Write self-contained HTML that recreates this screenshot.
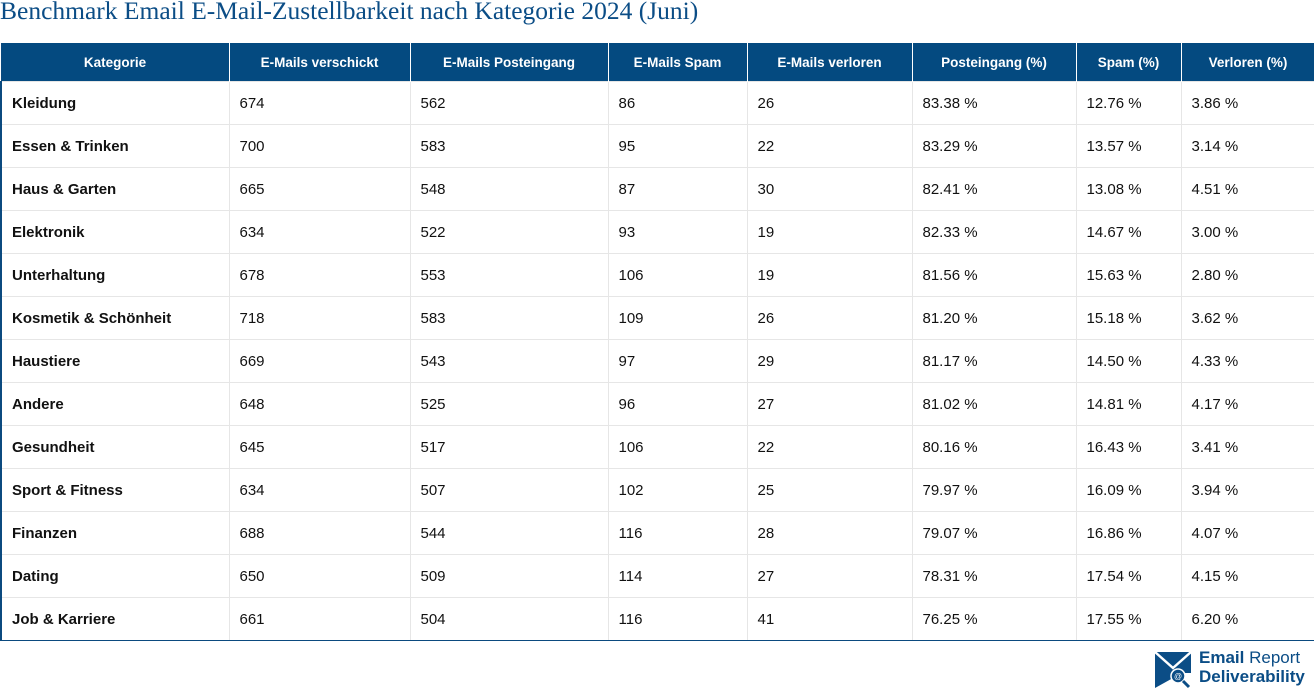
<!DOCTYPE html>
<html><head><meta charset="utf-8"><style>
body{margin:0;width:1314px;height:689px;background:#fff;overflow:hidden;font-family:"Liberation Sans",sans-serif}
h1{position:absolute;left:0;top:-4px;margin:0;font:normal 25.5px "Liberation Serif",serif;color:#0b4d86;white-space:nowrap}
table{position:absolute;left:0;top:43px;border-collapse:collapse;table-layout:fixed;width:1314px;border:1px solid #0b4a7f;border-top:none}
th{background:#044a80;color:#fff;font-size:13.5px;font-weight:bold;height:38px;padding:0;border-left:1px solid #fff;text-align:center}
th:first-child{border-left:none}
td{height:42px;border:1px solid #e6e6e6;font-size:15px;color:#111;padding:0 0 0 10px}
td:first-child{font-weight:bold;border-left:2px solid #0b4a7f}
td:last-child{border-right:1px solid #0b4a7f}
tr:last-child td{border-bottom:1px solid #0b4a7f}
.logo{position:absolute;left:1154px;top:651px}
.lt{position:absolute;left:1199px;top:648px;color:#0b4d86;font-weight:bold;font-size:17px;line-height:19px}
</style></head><body>
<h1>Benchmark Email E-Mail-Zustellbarkeit nach Kategorie 2024 (Juni)</h1>
<table>
<colgroup><col style="width:228px"><col style="width:181px"><col style="width:198px"><col style="width:139px"><col style="width:165px"><col style="width:164px"><col style="width:105px"><col style="width:134px"></colgroup>
<tr><th>Kategorie</th><th>E-Mails verschickt</th><th>E-Mails Posteingang</th><th>E-Mails Spam</th><th>E-Mails verloren</th><th>Posteingang (%)</th><th>Spam (%)</th><th>Verloren (%)</th></tr>
<tr><td>Kleidung</td><td>674</td><td>562</td><td>86</td><td>26</td><td>83.38 %</td><td>12.76 %</td><td>3.86 %</td></tr>
<tr><td>Essen &amp; Trinken</td><td>700</td><td>583</td><td>95</td><td>22</td><td>83.29 %</td><td>13.57 %</td><td>3.14 %</td></tr>
<tr><td>Haus &amp; Garten</td><td>665</td><td>548</td><td>87</td><td>30</td><td>82.41 %</td><td>13.08 %</td><td>4.51 %</td></tr>
<tr><td>Elektronik</td><td>634</td><td>522</td><td>93</td><td>19</td><td>82.33 %</td><td>14.67 %</td><td>3.00 %</td></tr>
<tr><td>Unterhaltung</td><td>678</td><td>553</td><td>106</td><td>19</td><td>81.56 %</td><td>15.63 %</td><td>2.80 %</td></tr>
<tr><td>Kosmetik &amp; Schönheit</td><td>718</td><td>583</td><td>109</td><td>26</td><td>81.20 %</td><td>15.18 %</td><td>3.62 %</td></tr>
<tr><td>Haustiere</td><td>669</td><td>543</td><td>97</td><td>29</td><td>81.17 %</td><td>14.50 %</td><td>4.33 %</td></tr>
<tr><td>Andere</td><td>648</td><td>525</td><td>96</td><td>27</td><td>81.02 %</td><td>14.81 %</td><td>4.17 %</td></tr>
<tr><td>Gesundheit</td><td>645</td><td>517</td><td>106</td><td>22</td><td>80.16 %</td><td>16.43 %</td><td>3.41 %</td></tr>
<tr><td>Sport &amp; Fitness</td><td>634</td><td>507</td><td>102</td><td>25</td><td>79.97 %</td><td>16.09 %</td><td>3.94 %</td></tr>
<tr><td>Finanzen</td><td>688</td><td>544</td><td>116</td><td>28</td><td>79.07 %</td><td>16.86 %</td><td>4.07 %</td></tr>
<tr><td>Dating</td><td>650</td><td>509</td><td>114</td><td>27</td><td>78.31 %</td><td>17.54 %</td><td>4.15 %</td></tr>
<tr><td>Job &amp; Karriere</td><td>661</td><td>504</td><td>116</td><td>41</td><td>76.25 %</td><td>17.55 %</td><td>6.20 %</td></tr>
</table>
<svg class="logo" width="40" height="38" viewBox="0 0 40 38">
<path d="M1 1 L37 1 L37 22 L28 22 L1 37 Z" fill="#0b4d86"/>
<path d="M1 1 L19 17 L37 1" fill="none" stroke="#fff" stroke-width="2.5"/>
<circle cx="24" cy="25" r="7" fill="#0b4d86" stroke="#fff" stroke-width="1.5"/>
<text x="24" y="28" font-size="8" fill="#fff" text-anchor="middle" font-family="Liberation Sans">@</text>
<line x1="29" y1="30" x2="35" y2="36" stroke="#0b4d86" stroke-width="3"/>
</svg>
<div class="lt">Email <span style="font-weight:normal">Report</span><br>Deliverability</div>
</body></html>
